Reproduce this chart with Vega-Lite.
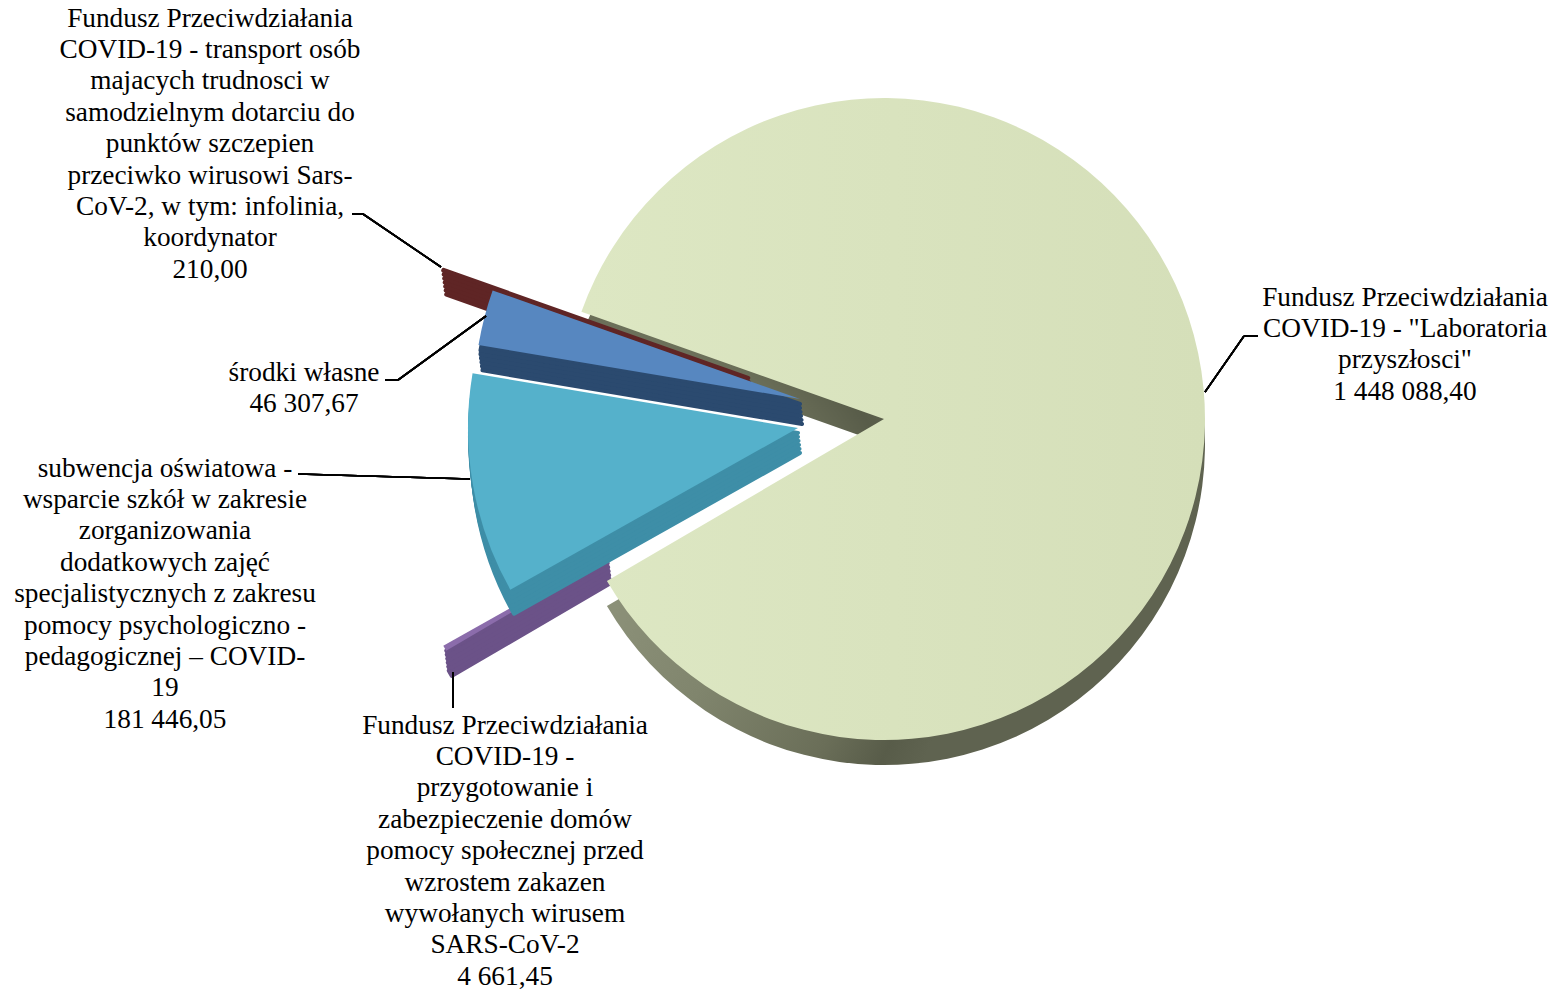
{"$schema":"https://vega.github.io/schema/vega-lite/v6.json","width":1557,"height":990,"padding":0,"autosize":{"type":"none"},"background":"white","config":{"view":{"stroke":null},"axis":{"disable":true},"arc":{"strokeJoin":"round"},"text":{"font":"Liberation Serif","fontSize":27.3,"lineHeight":31.4,"align":"center","baseline":"alphabetic","color":"black"},"rule":{"color":"black","strokeWidth":1.6}},
"data":{"values":[
{"id":"lab","order":1,"value":1448088.40,"label":["Fundusz Przeciwdziałania","COVID-19 - \"Laboratoria","przyszłosci\"","1 448 088,40"]},
{"id":"dps","order":2,"value":4661.45,"label":["Fundusz Przeciwdziałania","COVID-19 -","przygotowanie i","zabezpieczenie domów","pomocy społecznej przed","wzrostem zakazen","wywołanych wirusem","SARS-CoV-2","4 661,45"]},
{"id":"sub","order":3,"value":181446.05,"label":["subwencja oświatowa -","wsparcie szkół w zakresie","zorganizowania","dodatkowych zajęć","specjalistycznych z zakresu","pomocy psychologiczno -","pedagogicznej – COVID-","19","181 446,05"]},
{"id":"wl","order":4,"value":46307.67,"label":["środki własne","46 307,67"]},
{"id":"tr","order":5,"value":210.00,"label":["Fundusz Przeciwdziałania","COVID-19 - transport osób","majacych trudnosci w","samodzielnym dotarciu do","punktów szczepien","przeciwko wirusowi Sars-","CoV-2, w tym: infolinia,","koordynator","210,00"]}
]},
"transform":[{"stack":"value","sort":[{"field":"order","order":"ascending"}],"as":["v0","v1"]}],
"layer":[
{"transform":[{"filter":"datum.id=='dps'"}],"mark":{"type":"arc","innerRadius":145,"outerRadius":328,"color":"#6B5288","stroke":"#6B5288","strokeWidth":4.5},"encoding":{"x":{"datum":735,"scale":{"domain":[0,1557],"range":[0,1557],"nice":false,"zero":false}},"y":{"datum":510,"scale":{"domain":[0,990],"range":[0,990],"nice":false,"zero":false}},"theta":{"field":"v0","type":"quantitative","scale":{"domain":[0,1680713.57],"range":[5.0527,11.3359]}},"theta2":{"field":"v1"}}},
{"transform":[{"filter":"datum.id=='dps'"}],"mark":{"type":"arc","innerRadius":145,"outerRadius":328,"color":"#6B5288","stroke":"#6B5288","strokeWidth":4.5},"encoding":{"x":{"datum":734.5},"y":{"datum":506},"theta":{"field":"v0","type":"quantitative"},"theta2":{"field":"v1"}}},
{"transform":[{"filter":"datum.id=='dps'"}],"mark":{"type":"arc","innerRadius":145,"outerRadius":328,"color":"#6B5288","stroke":"#6B5288","strokeWidth":4.5},"encoding":{"x":{"datum":734},"y":{"datum":502},"theta":{"field":"v0","type":"quantitative"},"theta2":{"field":"v1"}}},
{"transform":[{"filter":"datum.id=='dps'"}],"mark":{"type":"arc","innerRadius":145,"outerRadius":328,"color":"#6B5288","stroke":"#6B5288","strokeWidth":4.5},"encoding":{"x":{"datum":733.5},"y":{"datum":498},"theta":{"field":"v0","type":"quantitative"},"theta2":{"field":"v1"}}},
{"transform":[{"filter":"datum.id=='dps'"}],"mark":{"type":"arc","innerRadius":145,"outerRadius":328,"color":"#6B5288","stroke":"#6B5288","strokeWidth":4.5},"encoding":{"x":{"datum":733},"y":{"datum":494},"theta":{"field":"v0","type":"quantitative"},"theta2":{"field":"v1"}}},
{"transform":[{"filter":"datum.id=='dps'"}],"mark":{"type":"arc","innerRadius":145,"outerRadius":328,"color":"#6B5288","stroke":"#6B5288","strokeWidth":4.5},"encoding":{"x":{"datum":732.5},"y":{"datum":490},"theta":{"field":"v0","type":"quantitative"},"theta2":{"field":"v1"}}},
{"transform":[{"filter":"datum.id=='dps'"}],"mark":{"type":"arc","outerRadius":330,"color":"#8B6CAB"},"encoding":{"x":{"datum":731},"y":{"datum":484},"theta":{"field":"v0","type":"quantitative"},"theta2":{"field":"v1"}}},
{"transform":[{"filter":"datum.id=='lab'"}],"mark":{"type":"arc","outerRadius":321,"color":{"gradient":"radial","x1":0,"y1":0.75,"r1":0,"x2":0,"y2":0.75,"r2":0.6,"stops":[{"offset":0,"color":"#8F947C"},{"offset":0.4,"color":"#80856D"},{"offset":0.75,"color":"#6A6E58"},{"offset":0.9,"color":"#585C49"},{"offset":1,"color":"#5F6350"}]}},"encoding":{"x":{"datum":884},"y":{"datum":444},"theta":{"field":"v0","type":"quantitative"},"theta2":{"field":"v1"}}},
{"transform":[{"filter":"datum.id=='lab'"}],"mark":{"type":"arc","outerRadius":321,"color":{"gradient":"linear","x1":0,"y1":0,"x2":1,"y2":0,"stops":[{"offset":0,"color":"#DDE7C3"},{"offset":1,"color":"#D5DFB9"}]}},"encoding":{"x":{"datum":884},"y":{"datum":419},"theta":{"field":"v0","type":"quantitative"},"theta2":{"field":"v1"}}},
{"transform":[{"filter":"datum.id=='tr'"}],"mark":{"type":"arc","outerRadius":323,"color":"#5F2525","stroke":"#5F2525","strokeWidth":4.5},"encoding":{"x":{"datum":751},"y":{"datum":402},"theta":{"field":"v0","type":"quantitative"},"theta2":{"field":"v1"}}},
{"transform":[{"filter":"datum.id=='tr'"}],"mark":{"type":"arc","outerRadius":323,"color":"#5F2525","stroke":"#5F2525","strokeWidth":4.5},"encoding":{"x":{"datum":750.5},"y":{"datum":398},"theta":{"field":"v0","type":"quantitative"},"theta2":{"field":"v1"}}},
{"transform":[{"filter":"datum.id=='tr'"}],"mark":{"type":"arc","outerRadius":323,"color":"#5F2525","stroke":"#5F2525","strokeWidth":4.5},"encoding":{"x":{"datum":750},"y":{"datum":394},"theta":{"field":"v0","type":"quantitative"},"theta2":{"field":"v1"}}},
{"transform":[{"filter":"datum.id=='tr'"}],"mark":{"type":"arc","outerRadius":323,"color":"#5F2525","stroke":"#5F2525","strokeWidth":4.5},"encoding":{"x":{"datum":749.5},"y":{"datum":390},"theta":{"field":"v0","type":"quantitative"},"theta2":{"field":"v1"}}},
{"transform":[{"filter":"datum.id=='tr'"}],"mark":{"type":"arc","outerRadius":323,"color":"#5F2525","stroke":"#5F2525","strokeWidth":4.5},"encoding":{"x":{"datum":749},"y":{"datum":386},"theta":{"field":"v0","type":"quantitative"},"theta2":{"field":"v1"}}},
{"transform":[{"filter":"datum.id=='tr'"}],"mark":{"type":"arc","outerRadius":323,"color":"#5F2525","stroke":"#5F2525","strokeWidth":4.5},"encoding":{"x":{"datum":748.5},"y":{"datum":382},"theta":{"field":"v0","type":"quantitative"},"theta2":{"field":"v1"}}},
{"transform":[{"filter":"datum.id=='tr'"}],"mark":{"type":"arc","outerRadius":323,"color":"#5F2525","stroke":"#5F2525","strokeWidth":4.5},"encoding":{"x":{"datum":748},"y":{"datum":378},"theta":{"field":"v0","type":"quantitative"},"theta2":{"field":"v1"}}},
{"transform":[{"filter":"datum.id=='wl'"}],"mark":{"type":"arc","outerRadius":324,"color":"#2B4A6F","stroke":"#2B4A6F","strokeWidth":4},"encoding":{"x":{"datum":802},"y":{"datum":424},"theta":{"field":"v0","type":"quantitative"},"theta2":{"field":"v1"}}},
{"transform":[{"filter":"datum.id=='wl'"}],"mark":{"type":"arc","outerRadius":324,"color":"#2B4A6F","stroke":"#2B4A6F","strokeWidth":4},"encoding":{"x":{"datum":801.5},"y":{"datum":420},"theta":{"field":"v0","type":"quantitative"},"theta2":{"field":"v1"}}},
{"transform":[{"filter":"datum.id=='wl'"}],"mark":{"type":"arc","outerRadius":324,"color":"#2B4A6F","stroke":"#2B4A6F","strokeWidth":4},"encoding":{"x":{"datum":801},"y":{"datum":416},"theta":{"field":"v0","type":"quantitative"},"theta2":{"field":"v1"}}},
{"transform":[{"filter":"datum.id=='wl'"}],"mark":{"type":"arc","outerRadius":324,"color":"#2B4A6F","stroke":"#2B4A6F","strokeWidth":4},"encoding":{"x":{"datum":800.5},"y":{"datum":412},"theta":{"field":"v0","type":"quantitative"},"theta2":{"field":"v1"}}},
{"transform":[{"filter":"datum.id=='wl'"}],"mark":{"type":"arc","outerRadius":324,"color":"#2B4A6F","stroke":"#2B4A6F","strokeWidth":4},"encoding":{"x":{"datum":800},"y":{"datum":408},"theta":{"field":"v0","type":"quantitative"},"theta2":{"field":"v1"}}},
{"transform":[{"filter":"datum.id=='wl'"}],"mark":{"type":"arc","outerRadius":324,"color":"#2B4A6F","stroke":"#2B4A6F","strokeWidth":4},"encoding":{"x":{"datum":800},"y":{"datum":404},"theta":{"field":"v0","type":"quantitative"},"theta2":{"field":"v1"}}},
{"transform":[{"filter":"datum.id=='wl'"}],"mark":{"type":"arc","outerRadius":326,"color":"#5787C0"},"encoding":{"x":{"datum":800},"y":{"datum":399},"theta":{"field":"v0","type":"quantitative"},"theta2":{"field":"v1"}}},
{"transform":[{"filter":"datum.id=='sub'"}],"mark":{"type":"arc","outerRadius":328,"color":"#3E8EA7","stroke":"#3E8EA7","strokeWidth":4},"encoding":{"x":{"datum":800},"y":{"datum":453},"theta":{"field":"v0","type":"quantitative"},"theta2":{"field":"v1"}}},
{"transform":[{"filter":"datum.id=='sub'"}],"mark":{"type":"arc","outerRadius":328,"color":"#3E8EA7","stroke":"#3E8EA7","strokeWidth":4},"encoding":{"x":{"datum":799.5},"y":{"datum":449},"theta":{"field":"v0","type":"quantitative"},"theta2":{"field":"v1"}}},
{"transform":[{"filter":"datum.id=='sub'"}],"mark":{"type":"arc","outerRadius":328,"color":"#3E8EA7","stroke":"#3E8EA7","strokeWidth":4},"encoding":{"x":{"datum":799},"y":{"datum":445},"theta":{"field":"v0","type":"quantitative"},"theta2":{"field":"v1"}}},
{"transform":[{"filter":"datum.id=='sub'"}],"mark":{"type":"arc","outerRadius":328,"color":"#3E8EA7","stroke":"#3E8EA7","strokeWidth":4},"encoding":{"x":{"datum":798.5},"y":{"datum":441},"theta":{"field":"v0","type":"quantitative"},"theta2":{"field":"v1"}}},
{"transform":[{"filter":"datum.id=='sub'"}],"mark":{"type":"arc","outerRadius":328,"color":"#3E8EA7","stroke":"#3E8EA7","strokeWidth":4},"encoding":{"x":{"datum":798},"y":{"datum":437},"theta":{"field":"v0","type":"quantitative"},"theta2":{"field":"v1"}}},
{"transform":[{"filter":"datum.id=='sub'"}],"mark":{"type":"arc","outerRadius":328,"color":"#3E8EA7","stroke":"#3E8EA7","strokeWidth":4},"encoding":{"x":{"datum":798},"y":{"datum":433},"theta":{"field":"v0","type":"quantitative"},"theta2":{"field":"v1"}}},
{"transform":[{"filter":"datum.id=='sub'"}],"mark":{"type":"arc","outerRadius":330,"color":"#55B1CB"},"encoding":{"x":{"datum":798},"y":{"datum":428},"theta":{"field":"v0","type":"quantitative"},"theta2":{"field":"v1"}}},
{"mark":{"type":"rule"},"encoding":{"x":{"datum":1258},"x2":{"datum":1244},"y":{"datum":336},"y2":{"datum":336}}},
{"mark":{"type":"rule"},"encoding":{"x":{"datum":1244},"x2":{"datum":1205},"y":{"datum":336},"y2":{"datum":392}}},
{"mark":{"type":"rule"},"encoding":{"x":{"datum":352},"x2":{"datum":363},"y":{"datum":214},"y2":{"datum":214}}},
{"mark":{"type":"rule"},"encoding":{"x":{"datum":363},"x2":{"datum":441},"y":{"datum":214},"y2":{"datum":267}}},
{"mark":{"type":"rule"},"encoding":{"x":{"datum":385},"x2":{"datum":398},"y":{"datum":380},"y2":{"datum":380}}},
{"mark":{"type":"rule"},"encoding":{"x":{"datum":398},"x2":{"datum":486},"y":{"datum":380},"y2":{"datum":316}}},
{"mark":{"type":"rule"},"encoding":{"x":{"datum":298},"x2":{"datum":470},"y":{"datum":474},"y2":{"datum":479}}},
{"mark":{"type":"rule"},"encoding":{"x":{"datum":453},"x2":{"datum":453},"y":{"datum":672},"y2":{"datum":708}}},
{"transform":[{"filter":"datum.id=='lab'"}],"mark":{"type":"text"},"encoding":{"x":{"datum":1405},"y":{"datum":305.5},"text":{"field":"label"}}},
{"transform":[{"filter":"datum.id=='dps'"}],"mark":{"type":"text"},"encoding":{"x":{"datum":505},"y":{"datum":733.5},"text":{"field":"label"}}},
{"transform":[{"filter":"datum.id=='sub'"}],"mark":{"type":"text"},"encoding":{"x":{"datum":165},"y":{"datum":476.5},"text":{"field":"label"}}},
{"transform":[{"filter":"datum.id=='wl'"}],"mark":{"type":"text"},"encoding":{"x":{"datum":304},"y":{"datum":380.5},"text":{"field":"label"}}},
{"transform":[{"filter":"datum.id=='tr'"}],"mark":{"type":"text"},"encoding":{"x":{"datum":210},"y":{"datum":26.5},"text":{"field":"label"}}}
]}
